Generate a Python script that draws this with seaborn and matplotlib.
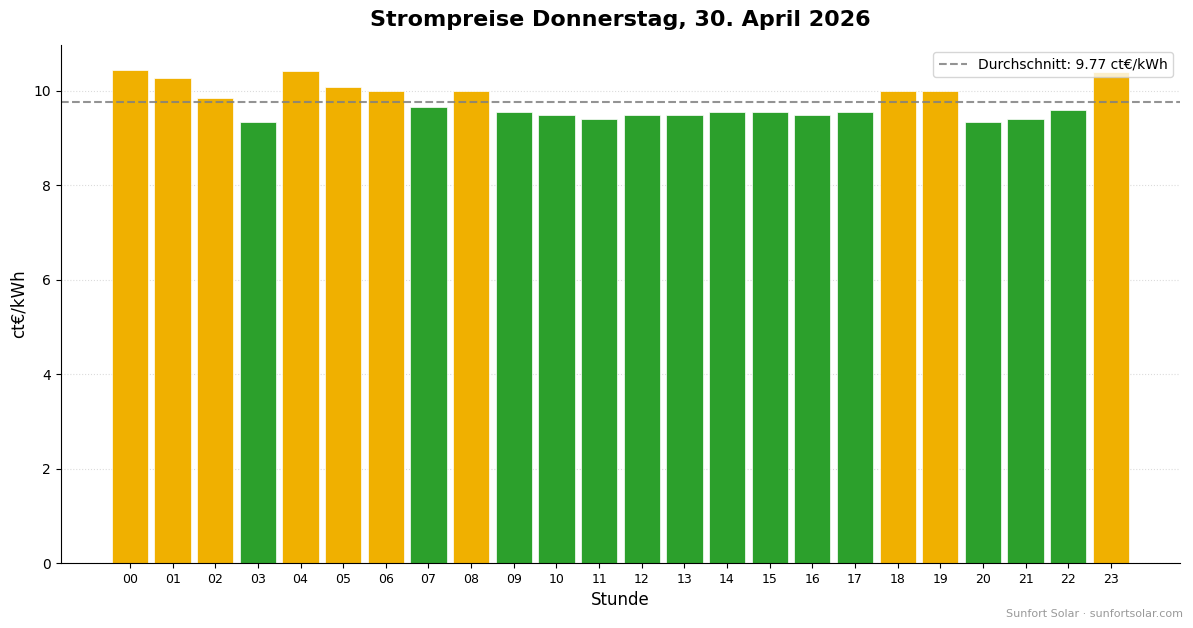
import numpy as np
import pandas as pd
import matplotlib
matplotlib.use('Agg')
import matplotlib.pyplot as plt
import seaborn as sns

hours = ['00', '01', '02', '03', '04', '05', '06', '07', '08', '09', '10', '11',
         '12', '13', '14', '15', '16', '17', '18', '19', '20', '21', '22', '23']
prices = [10.45, 10.28, 9.84, 9.34, 10.43, 10.09, 9.99, 9.65, 9.99, 9.55, 9.50, 9.40,
          9.50, 9.50, 9.55, 9.55, 9.50, 9.55, 9.99, 9.99, 9.34, 9.40, 9.59, 10.40]

avg = np.mean(prices)
df = pd.DataFrame({'Stunde': hours, 'Preis': prices})
df['Stufe'] = np.where(df['Preis'] > avg, 'hoch', 'niedrig')
palette = {'hoch': '#f0b000', 'niedrig': '#2ca02c'}

plt.rcParams['font.family'] = ['DejaVu Sans']

fig = plt.figure(figsize=(11.93, 6.28), dpi=100)
ax = fig.add_axes([0.0511, 0.1035, 0.9379, 0.8248])

bw = 0.85
sns.barplot(data=df, x='Stunde', y='Preis', hue='Stufe', palette=palette,
            dodge=False, legend=False, width=bw, edgecolor='white',
            linewidth=0.5, saturation=1, ax=ax)

ax.axhline(avg, color='gray', linestyle='--', linewidth=1.5, alpha=0.85,
           label=f'Durchschnitt: {avg:.2f} ct€/kWh')

# same x-range matplotlib's ax.bar would give (5% margins)
n = len(hours)
span = (n - 1) + bw
ax.set_xlim(-bw / 2 - 0.05 * span, n - 1 + bw / 2 + 0.05 * span)
ax.set_ylim(0, max(prices) * 1.05)
ax.grid(axis='y', linestyle=':', color='lightgray', alpha=0.8)
ax.set_axisbelow(True)
sns.despine(ax=ax)

ax.set_title('Strompreise Donnerstag, 30. April 2026', fontsize=16,
             fontweight='bold', pad=14)
ax.set_xlabel('Stunde', fontsize=12)
ax.set_ylabel('ct€/kWh', fontsize=12)
ax.tick_params(axis='x', labelsize=9)
ax.tick_params(axis='y', labelsize=10)
ax.legend(loc='upper right', fontsize=10)

fig.text(0.992, 0.015, 'Sunfort Solar · sunfortsolar.com', ha='right',
         va='bottom', fontsize=8, color='gray', alpha=0.8)

fig.savefig('out.png', dpi=100)
